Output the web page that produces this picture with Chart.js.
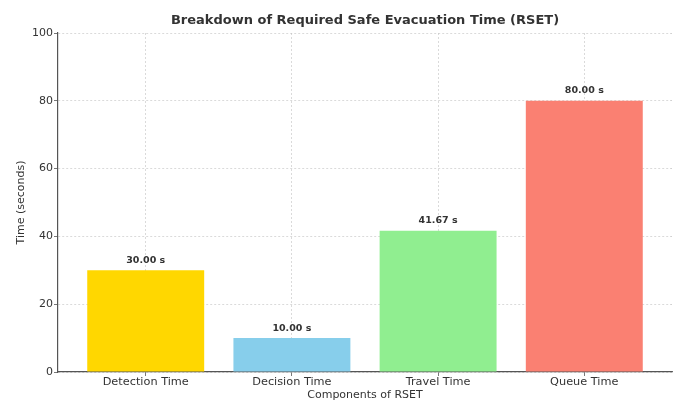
<!DOCTYPE html>
<html><head><meta charset="utf-8">
<script src="https://cdn.jsdelivr.net/npm/chart.js@4.4.0/dist/chart.umd.min.js"></script>
<style>html,body{margin:0;padding:0;background:#fff}#wrap{width:696px;height:407px}</style>
</head><body><div id="wrap"><canvas id="c" width="696" height="407"></canvas></div>
<script>
const categories = ["Detection Time", "Decision Time", "Travel Time", "Queue Time"];
const values = [30.00, 10.00, 41.67, 80.00];
const colors = ["#FFD700", "#87CEEB", "#90EE90", "#FA8072"];
const yTicks = [0, 20, 40, 60, 80, 100];
const titleText = 'Breakdown of Required Safe Evacuation Time (RSET)';

const labelPlugin = {
  id: 'barLabels',
  afterDatasetsDraw(chart) {
    const ctx = chart.ctx;
    const meta = chart.getDatasetMeta(0);
    ctx.save();
    ctx.font = 'bold 9.5px "DejaVu Sans"';
    ctx.fillStyle = '#333';
    ctx.textAlign = 'center';
    ctx.textBaseline = 'middle';
    meta.data.forEach((bar, i) => {
      ctx.fillText(values[i].toFixed(2) + ' s', bar.x, bar.y - 10);
    });
    ctx.restore();
  },
  afterDraw(chart) {
    const ctx = chart.ctx;
    const a = chart.chartArea;
    ctx.save();
    ctx.font = 'bold 13px "DejaVu Sans"';
    ctx.fillStyle = '#333';
    ctx.textAlign = 'center';
    ctx.textBaseline = 'middle';
    ctx.fillText(titleText, (a.left + a.right) / 2, a.top - 12);
    ctx.restore();
  }
};

new Chart(document.getElementById('c'), {
  type: 'bar',
  data: {
    datasets: [{
      data: values.map((v, i) => ({x: i, y: v})),
      backgroundColor: colors,
      borderWidth: 0,
      barPercentage: 0.8,
      categoryPercentage: 1.0
    }]
  },
  options: {
    responsive: false,
    animation: false,
    layout: {padding: {left: 0, right: 24, top: 33, bottom: 0}},
    plugins: {
      legend: {display: false},
      tooltip: {enabled: false},
      title: {display: false}
    },
    scales: {
      x: {
        type: 'linear',
        min: -0.6,
        max: 3.6,
        offset: false,
        z: 1,
        afterBuildTicks(scale) { scale.ticks = categories.map((c, i) => ({value: i})); },
        afterFit(scale) { scale.height = 35; },
        ticks: {
          callback: (v) => categories[v] ?? '',
          font: {family: 'DejaVu Sans', size: 11.3},
          color: '#333',
          padding: -1,
          maxRotation: 0,
          autoSkip: false
        },
        grid: {offset: false, color: 'rgba(190,190,190,0.7)', tickColor: '#555', tickLength: 4, lineWidth: 0.8, drawTicks: true},
        border: {display: true, color: '#555', width: 1.2, dash: [2, 2]},
        title: {display: true, text: 'Components of RSET', font: {family: 'DejaVu Sans', size: 11, lineHeight: 1.2}, color: '#333', padding: {top: 0, bottom: 5}}
      },
      y: {
        min: 0,
        max: 100,
        z: 1,
        afterBuildTicks(scale) { scale.ticks = yTicks.map(v => ({value: v})); },
        afterFit(scale) { scale.width = 58; },
        ticks: {
          font: {family: 'DejaVu Sans', size: 11},
          color: '#333',
          padding: 1
        },
        grid: {color: 'rgba(190,190,190,0.7)', tickColor: '#555', tickLength: 4, lineWidth: 0.8},
        border: {display: true, color: '#555', width: 1.2, dash: [2, 2]},
        title: {display: true, text: 'Time (seconds)', font: {family: 'DejaVu Sans', size: 11, lineHeight: 1.2}, color: '#333', padding: {top: 15, bottom: 0}}
      }
    }
  },
  plugins: [labelPlugin]
});
</script>
</body></html>
